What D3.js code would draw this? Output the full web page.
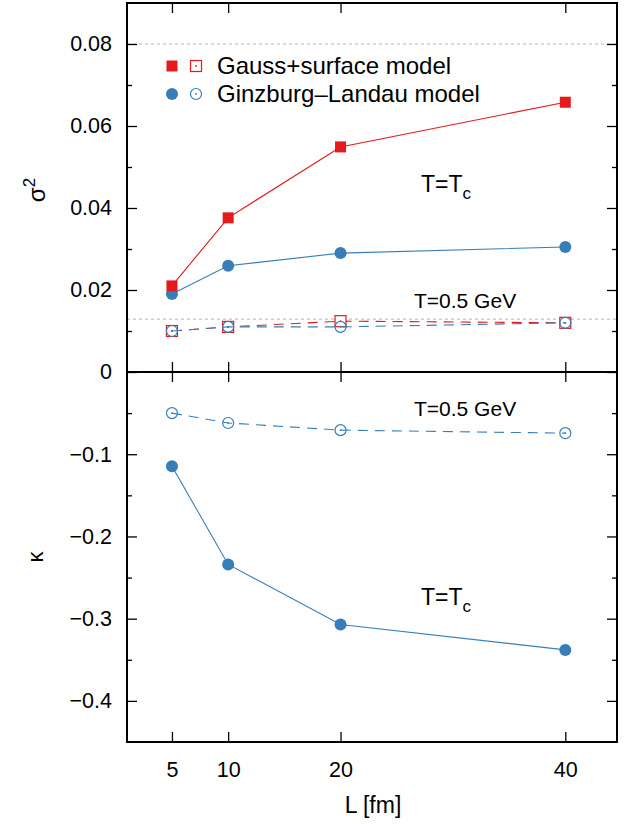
<!DOCTYPE html>
<html>
<head>
<meta charset="utf-8">
<script src="https://cdn.jsdelivr.net/npm/d3@7"></script>
<style>
  html, body { margin: 0; padding: 0; background: #fff; }
  svg { display: block; font-family: "Liberation Sans", Arial, Helvetica, sans-serif; }
</style>
</head>
<body>
<svg id="chart" width="632" height="825"></svg>
<script>
// System size L in fm
const L = [5, 10, 20, 40];

// sigma^2 at T = Tc
const gaussTc = [0.0210, 0.0376, 0.0549, 0.0658];
const glTc    = [0.0190, 0.0259, 0.0290, 0.0305];

// sigma^2 at T = 0.5 GeV
const gauss05 = [0.0100, 0.0110, 0.0124, 0.0120];
const gl05    = [0.0100, 0.0110, 0.0110, 0.0120];

// kappa (Ginzburg-Landau) at T = Tc and T = 0.5 GeV
const kappaTc = [-0.1146, -0.2340, -0.3070, -0.3380];
const kappa05 = [-0.0500, -0.0620, -0.0707, -0.0744];

// Reference levels (gray dotted lines)
const refLevels = [0.08, 0.0129];

// Tick values
const xTicks = [5, 10, 20, 40];
const sigTicks = [0, 0.02, 0.04, 0.06, 0.08];
const sigMinor = [0.01, 0.03, 0.05, 0.07];
const kapTicks = [-0.1, -0.2, -0.3, -0.4];
const kapMinor = [-0.05, -0.15, -0.25, -0.35];

const RED = "#e41a1c";
const BLUE = "#377eb8";

const svg = d3.select("#chart");

const plotL = 127, plotR = 617, plotT = 3, plotM = 372, plotB = 742;

const x = d3.scaleLinear().domain([1, 44.6]).range([plotL, plotR]);
const ySig = d3.scaleLinear().domain([0, 0.09]).range([plotM, plotT]);
const yKap = d3.scaleLinear().domain([-0.45, 0]).range([plotB, plotM]);

const fmtSig = d => d === 0 ? "0" : d3.format(".2f")(d);
const fmtKap = d => d3.format(".1f")(d);

// Gray dotted reference lines
svg.append("g").selectAll("line").data(refLevels).join("line")
  .attr("x1", plotL).attr("x2", plotR)
  .attr("y1", d => ySig(d)).attr("y2", d => ySig(d))
  .attr("stroke", "#b4b4b4").attr("stroke-width", 1)
  .attr("stroke-dasharray", "3,3");

// Axes helper: inward ticks, no domain path (frame drawn separately)
function styleAxis(g) {
  g.select(".domain").remove();
  g.selectAll(".tick line").attr("stroke", "#000").attr("stroke-width", 1.3);
  g.selectAll(".tick text").attr("fill", "#000").attr("font-size", 21.5)
    .attr("font-family", "'Liberation Sans', Arial, Helvetica, sans-serif");
}

// sigma^2 panel: left axis with labels
svg.append("g").attr("transform", `translate(${plotL},0)`)
  .call(d3.axisLeft(ySig).tickValues(sigTicks).tickFormat(fmtSig)
    .tickSizeInner(-10).tickSizeOuter(0).tickPadding(15))
  .call(styleAxis);
svg.append("g").attr("transform", `translate(${plotL},0)`)
  .call(d3.axisLeft(ySig).tickValues(sigMinor).tickFormat("")
    .tickSizeInner(-5).tickSizeOuter(0))
  .call(styleAxis);
svg.append("g").attr("transform", `translate(${plotR},0)`)
  .call(d3.axisRight(ySig).tickValues(sigTicks).tickFormat("")
    .tickSizeInner(-10).tickSizeOuter(0))
  .call(styleAxis);
svg.append("g").attr("transform", `translate(${plotR},0)`)
  .call(d3.axisRight(ySig).tickValues(sigMinor).tickFormat("")
    .tickSizeInner(-5).tickSizeOuter(0))
  .call(styleAxis);

// kappa panel: left axis with labels
svg.append("g").attr("transform", `translate(${plotL},0)`)
  .call(d3.axisLeft(yKap).tickValues(kapTicks).tickFormat(fmtKap)
    .tickSizeInner(-10).tickSizeOuter(0).tickPadding(15))
  .call(styleAxis);
svg.append("g").attr("transform", `translate(${plotL},0)`)
  .call(d3.axisLeft(yKap).tickValues(kapMinor).tickFormat("")
    .tickSizeInner(-5).tickSizeOuter(0))
  .call(styleAxis);
svg.append("g").attr("transform", `translate(${plotR},0)`)
  .call(d3.axisRight(yKap).tickValues(kapTicks).tickFormat("")
    .tickSizeInner(-10).tickSizeOuter(0))
  .call(styleAxis);
svg.append("g").attr("transform", `translate(${plotR},0)`)
  .call(d3.axisRight(yKap).tickValues(kapMinor).tickFormat("")
    .tickSizeInner(-5).tickSizeOuter(0))
  .call(styleAxis);

// x ticks: top of upper panel, both sides of the shared zero line, bottom
svg.append("g").attr("transform", `translate(0,${plotT})`)
  .call(d3.axisTop(x).tickValues(xTicks).tickFormat("").tickSizeInner(-10).tickSizeOuter(0))
  .call(styleAxis);
svg.append("g").attr("transform", `translate(0,${plotM})`)
  .call(d3.axisBottom(x).tickValues(xTicks).tickFormat("").tickSizeInner(-10).tickSizeOuter(0))
  .call(styleAxis);
svg.append("g").attr("transform", `translate(0,${plotM})`)
  .call(d3.axisTop(x).tickValues(xTicks).tickFormat("").tickSizeInner(-10).tickSizeOuter(0))
  .call(styleAxis);
svg.append("g").attr("transform", `translate(0,${plotB})`)
  .call(d3.axisBottom(x).tickValues(xTicks).tickSizeInner(-10).tickSizeOuter(0).tickPadding(20))
  .call(styleAxis);

// Frame
svg.append("rect").attr("x", plotL).attr("y", plotT)
  .attr("width", plotR - plotL).attr("height", plotB - plotT)
  .attr("fill", "none").attr("stroke", "#000").attr("stroke-width", 2);
svg.append("line").attr("x1", plotL).attr("x2", plotR)
  .attr("y1", plotM).attr("y2", plotM)
  .attr("stroke", "#000").attr("stroke-width", 2);

// Series drawing
function series(vals, yScale, color, dashed, marker) {
  const pts = L.map((l, i) => [x(l), yScale(vals[i])]);
  const g = svg.append("g");
  g.append("path").attr("d", d3.line()(pts))
    .attr("fill", "none").attr("stroke", color).attr("stroke-width", 1.1)
    .attr("stroke-dasharray", dashed ? "10,7" : null);
  pts.forEach(([px, py]) => drawMarker(g, px, py, color, marker));
}

function drawMarker(g, px, py, color, marker) {
  if (marker === "fsq") {
    g.append("rect").attr("x", px - 5.5).attr("y", py - 5.5)
      .attr("width", 11).attr("height", 11).attr("fill", color);
  } else if (marker === "osq") {
    g.append("rect").attr("x", px - 5.5).attr("y", py - 5.5)
      .attr("width", 11).attr("height", 11).attr("fill", "#fff")
      .attr("stroke", color).attr("stroke-width", 1.2);
    g.append("circle").attr("cx", px).attr("cy", py).attr("r", 0.9).attr("fill", color);
  } else if (marker === "fci") {
    g.append("circle").attr("cx", px).attr("cy", py).attr("r", 6).attr("fill", color);
  } else if (marker === "oci") {
    g.append("circle").attr("cx", px).attr("cy", py).attr("r", 5.5)
      .attr("fill", "none").attr("stroke", color).attr("stroke-width", 1.2);
    g.append("circle").attr("cx", px).attr("cy", py).attr("r", 0.9).attr("fill", color);
  }
}

series(gauss05, ySig, RED, true, "osq");
series(gl05, ySig, BLUE, true, "oci");
series(glTc, ySig, BLUE, false, "fci");
series(gaussTc, ySig, RED, false, "fsq");
series(kappa05, yKap, BLUE, true, "oci");
series(kappaTc, yKap, BLUE, false, "fci");

// Legend
const leg = svg.append("g");
drawMarker(leg, 172, 66, RED, "fsq");
drawMarker(leg, 196, 66, RED, "osq");
drawMarker(leg, 172, 94, BLUE, "fci");
drawMarker(leg, 196, 94, BLUE, "oci");
leg.append("text").attr("x", 217).attr("y", 74).attr("font-size", 24)
  .text("Gauss+surface model");
leg.append("text").attr("x", 217).attr("y", 102).attr("font-size", 24)
  .text("Ginzburg\u2013Landau model");

// Annotations
function tcLabel(px, py) {
  const t = svg.append("text").attr("x", px).attr("y", py).attr("font-size", 23);
  t.append("tspan").text("T=T");
  t.append("tspan").attr("font-size", 17).attr("dy", 7).text("c");
}
tcLabel(421, 192);
tcLabel(421, 605);
svg.append("text").attr("x", 414).attr("y", 308).attr("font-size", 21).text("T=0.5 GeV");
svg.append("text").attr("x", 414).attr("y", 416).attr("font-size", 21).text("T=0.5 GeV");

// Axis titles
const sigT = svg.append("text").attr("transform", "translate(45,190) rotate(-90)")
  .attr("text-anchor", "middle").attr("font-size", 24);
sigT.append("tspan").text("\u03c3");
sigT.append("tspan").attr("font-size", 17).attr("dy", -10).text("2");

svg.append("text").attr("transform", "translate(43,557) rotate(-90)")
  .attr("text-anchor", "middle").attr("font-size", 22).text("\u03ba");

svg.append("text").attr("x", 373).attr("y", 813)
  .attr("text-anchor", "middle").attr("font-size", 23).text("L [fm]");
</script>
</body>
</html>
